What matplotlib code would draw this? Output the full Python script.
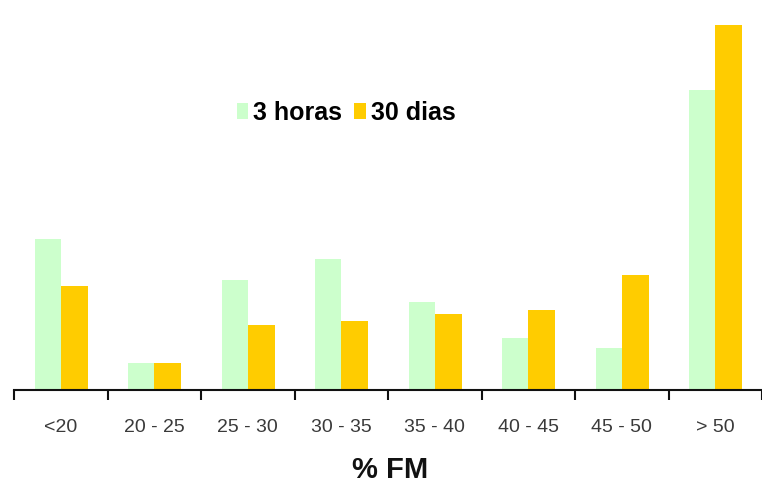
import matplotlib
matplotlib.use("Agg")
import matplotlib.pyplot as plt
from matplotlib import font_manager
import numpy as np

categories = ["<20", "20 - 25", "25 - 30", "30 - 35", "35 - 40", "40 - 45", "45 - 50", "> 50"]
horas_3 = [15.1, 2.7, 11.0, 13.1, 8.8, 5.2, 4.2, 30.0]
dias_30 = [10.4, 2.7, 6.5, 6.9, 7.6, 8.0, 11.5, 36.5]
series_labels = ["3 horas", "30 dias"]
xlabel = "% FM"

installed = {f.name for f in font_manager.fontManager.ttflist}
narrow = "Liberation Sans Narrow" if "Liberation Sans Narrow" in installed else "Liberation Sans"

W, H = 762, 490
fig = plt.figure(figsize=(W / 100, H / 100), dpi=100)
ax = fig.add_axes([14 / W, 100 / H, 748 / W, 390 / H])

x = np.arange(len(categories))
b1 = ax.bar(x, horas_3, width=-0.28, align="edge", color="#CCFFCC", label=series_labels[0])
b2 = ax.bar(x, dias_30, width=0.29, align="edge", color="#FFCC00", label=series_labels[1])

ax.set_xlim(-0.5, -0.5 + 748 / 94)
ax.set_ylim(0, 39)

for s in ["top", "right", "left"]:
    ax.spines[s].set_visible(False)
ax.spines["bottom"].set_linewidth(1.5)
ax.spines["bottom"].set_color("#111111")
ax.set_yticks([])

ax.set_xticks(np.arange(len(categories) + 1) - 0.5)
ax.set_xticklabels([])
ax.tick_params(axis="x", direction="out", length=7, width=1.5, color="#111111")
ax.set_xticks(x, minor=True)
ax.set_xticklabels(categories, minor=True, fontsize=14, color="#3a3a3a",
                   family="Liberation Sans")
ax.tick_params(axis="x", which="minor", length=0, pad=21)

fig.text(390 / W, 1 - 470 / H, xlabel, ha="center", va="center",
         fontsize=21, fontweight="bold", family=narrow, color="#111111")

leg = fig.legend(handles=[b1, b2], labels=series_labels, loc="center",
                 bbox_to_anchor=(346 / W, 1 - 113 / H), ncol=2, frameon=False,
                 prop={"family": narrow, "weight": "bold", "size": 18},
                 handlelength=0.45, handleheight=0.6, handletextpad=0.2,
                 columnspacing=0.5)

fig.savefig("out.png", dpi=100)
